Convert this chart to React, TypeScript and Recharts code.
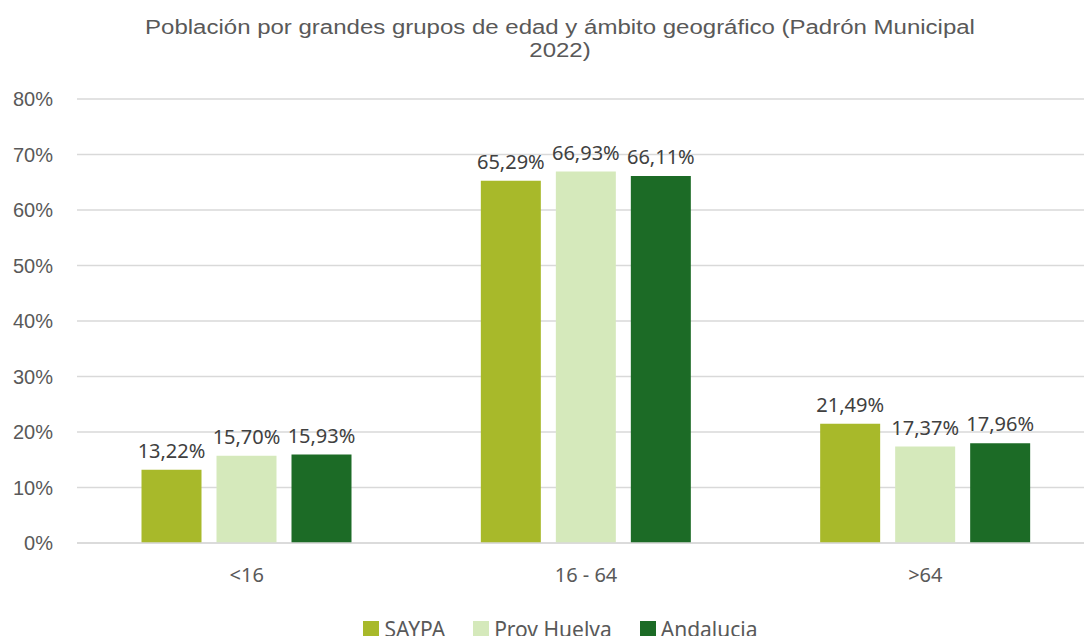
import React from "react";
import {
  BarChart,
  Bar,
  XAxis,
  YAxis,
  CartesianGrid,
  Legend,
  LabelList,
} from "recharts";

const categories = ["<16", "16 - 64", ">64"];
const saypa = [13.22, 65.29, 21.49];
const provHuelva = [15.7, 66.93, 17.37];
const andalucia = [15.93, 66.11, 17.96];
const yTicks = [0, 10, 20, 30, 40, 50, 60, 70, 80];

const series = [
  { key: "saypa", name: "SAYPA", color: "#a8b92a" },
  { key: "prov", name: "Prov Huelva", color: "#d5e9bb" },
  { key: "anda", name: "Andalucia", color: "#1c6b26" },
];

const data = categories.map((c, i) => ({
  cat: c,
  saypa: saypa[i],
  prov: provHuelva[i],
  anda: andalucia[i],
}));

const fmt = (v: number) => v.toFixed(2).replace(".", ",") + "%";

function LegendBox() {
  return (
    <div
      style={{
        display: "flex",
        justifyContent: "center",
        gap: 28,
        fontFamily: "'Noto Sans', sans-serif",
        fontSize: 21,
        color: "#595959",
        lineHeight: "24px",
        paddingLeft: 26,
      }}
    >
      {series.map((s) => (
        <div key={s.key} style={{ display: "flex", alignItems: "center" }}>
          <span
            style={{
              display: "inline-block",
              width: 16,
              height: 16,
              background: s.color,
              marginRight: 5,
            }}
          />
          {s.name}
        </div>
      ))}
    </div>
  );
}

export default function App() {
  return (
    <div
      style={{
        position: "absolute",
        left: 0,
        top: 0,
        width: 1084,
        height: 636,
        overflow: "hidden",
        background: "#fff",
      }}
    >
      <div
        style={{
          position: "absolute",
          left: 0,
          top: 16,
          width: 1120,
          textAlign: "center",
          fontFamily: "'Liberation Sans', Arial, sans-serif",
          fontSize: 20,
          lineHeight: "23px",
          color: "#595959",
          transform: "scaleX(1.2)",
          transformOrigin: "560px 0",
        }}
      >
        Población por grandes grupos de edad y ámbito geográfico (Padrón Municipal
        <br />
        2022)
      </div>
      <BarChart
        width={1100}
        height={650}
        data={data}
        margin={{ top: 99, right: 5, left: 0, bottom: 9 }}
        barGap={15}
        barCategoryGap={64.5}
      >
        <CartesianGrid vertical={false} stroke="#d9d9d9" strokeWidth={1.5} />
        <XAxis
          dataKey="cat"
          axisLine={{ stroke: "#d9d9d9", strokeWidth: 1.5 }}
          tickLine={false}
          height={74}
          tickMargin={19}
          tick={{ fill: "#595959", fontSize: 20, fontFamily: "'Noto Sans', sans-serif" }}
        />
        <YAxis
          domain={[0, 80]}
          ticks={yTicks}
          width={77}
          axisLine={false}
          tickLine={false}
          tickMargin={18}
          tickFormatter={(v) => `${v}%`}
          tick={{ fill: "#595959", fontSize: 20, fontFamily: "'Liberation Sans', Arial, sans-serif" }}
        />
        <Legend verticalAlign="bottom" content={() => <LegendBox />} />
        {series.map((s) => (
          <Bar key={s.key} dataKey={s.key} name={s.name} fill={s.color} isAnimationActive={false}>
            <LabelList
              dataKey={s.key}
              position="top"
              offset={12}
              formatter={(v: number) => fmt(v)}
              fill="#404040"
              fontSize={20}
              fontFamily="'Noto Sans', sans-serif"
            />
          </Bar>
        ))}
      </BarChart>
    </div>
  );
}
